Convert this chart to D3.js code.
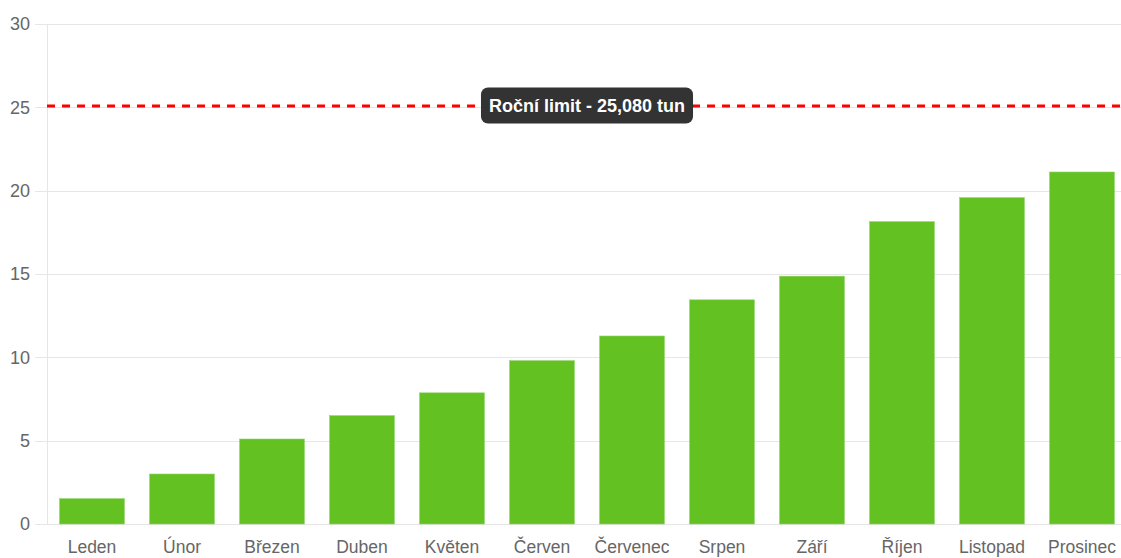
<!DOCTYPE html>
<html>
<head>
<meta charset="utf-8">
<script src="https://cdn.jsdelivr.net/npm/d3@7"></script>
<style>
  html, body { margin: 0; padding: 0; background: #fff; }
  svg { display: block; font-family: "Liberation Sans", Arial, Helvetica, sans-serif; }
</style>
</head>
<body>
<div class="chart"></div>
<script>
var months = ['Leden', 'Únor', 'Březen', 'Duben', 'Květen', 'Červen',
  'Červenec', 'Srpen', 'Září', 'Říjen', 'Listopad', 'Prosinec'];
var tons = [1.52, 3.0, 5.1, 6.5, 7.87, 9.8, 11.28, 13.45, 14.87, 18.14, 19.58, 21.12];
var yTicks = [0, 5, 10, 15, 20, 25, 30];
var limit = 25.08;
var limitLabel = 'Roční limit - 25,080 tun';

var W = 1121, H = 558;
var margin = { top: 24, right: -6, bottom: 34, left: 47 };

var svg = d3.select('.chart')
  .append('svg')
    .attr('width', W)
    .attr('height', H);

var xScale = d3.scaleBand()
  .domain(months)
  .range([margin.left, W - margin.right])
  .paddingInner(0.28)
  .paddingOuter(0.14);

var yScale = d3.scaleLinear()
  .domain([0, 30])
  .range([H - margin.bottom, margin.top]);

// grid lines + y axis
var yAxis = d3.axisLeft(yScale)
  .tickValues(yTicks)
  .tickSize(-(W - margin.left + 10))
  .tickPadding(6);

var gy = svg.append('g')
  .attr('transform', 'translate(' + margin.left + ',0)')
  .call(yAxis);

gy.select('.domain').remove();
gy.selectAll('.tick line')
  .attr('x1', -12)
  .attr('x2', W)
  .attr('stroke', '#e6e6e6')
  .attr('shape-rendering', 'crispEdges');
gy.selectAll('.tick text')
  .attr('x', -17)
  .style('font-size', '18px')
  .style('fill', '#666');

svg.append('line')
  .attr('x1', margin.left).attr('x2', margin.left)
  .attr('y1', yScale(30)).attr('y2', yScale(0))
  .attr('stroke', '#e6e6e6')
  .attr('shape-rendering', 'crispEdges');

// bars
svg.selectAll('rect.bar')
  .data(tons)
  .enter()
  .append('rect')
    .attr('class', 'bar')
    .attr('x', (d, i) => xScale(months[i]))
    .attr('width', xScale.bandwidth())
    .attr('y', d => yScale(d))
    .attr('height', d => yScale(0) - yScale(d))
    .style('fill', '#63c121')
    .style('stroke', '#8fd36a')
    .style('stroke-width', 0.6);

// x labels (kept just inside the bottom edge)
var xAxis = d3.axisBottom(xScale).tickSize(0).tickPadding(17);
var gx = svg.append('g')
  .attr('transform', 'translate(0,' + yScale(0) + ')')
  .call(xAxis);
gx.select('.domain').remove();
gx.selectAll('.tick text')
  .style('font-size', '17.5px')
  .style('fill', '#666');

// limit line
svg.append('line')
  .attr('x1', margin.left)
  .attr('x2', W)
  .attr('y1', yScale(limit))
  .attr('y2', yScale(limit))
  .style('stroke', '#ff0000')
  .style('stroke-width', 3)
  .style('stroke-dasharray', '8,7');

var cx = (margin.left + W - margin.right) / 2;
var lab = svg.append('g')
  .attr('transform', 'translate(' + cx + ',' + yScale(limit) + ')');
var txt = lab.append('text')
  .attr('text-anchor', 'middle')
  .attr('dy', '0.35em')
  .style('font-size', '18px')
  .style('font-weight', 'bold')
  .style('fill', '#fff')
  .text(limitLabel);
var bb = txt.node().getBBox();
lab.insert('rect', 'text')
  .attr('x', bb.x - 8)
  .attr('y', -18.5)
  .attr('width', bb.width + 16)
  .attr('height', 36)
  .attr('rx', 7)
  .style('fill', '#333');
</script>
</body>
</html>
